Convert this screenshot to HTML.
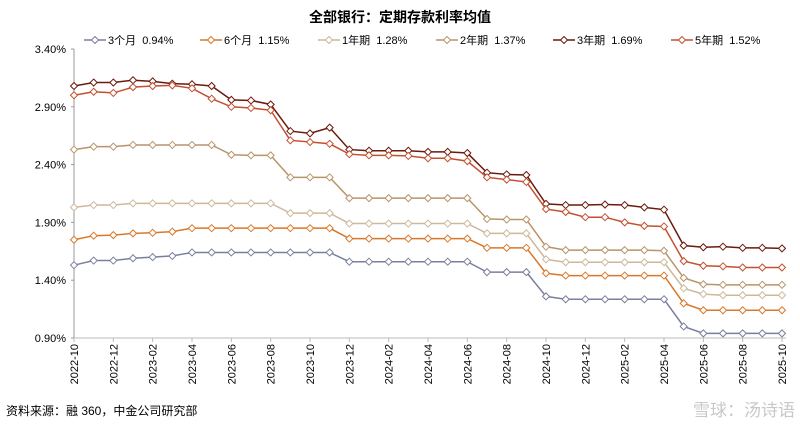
<!DOCTYPE html>
<html><head><meta charset="utf-8"><style>
body{margin:0;background:#fff;font-family:"Liberation Sans","Noto Sans CJK SC",sans-serif}
</style></head><body>
<svg id="c" width="800" height="429" xmlns="http://www.w3.org/2000/svg" style="display:block">
<text x="400" y="22" text-anchor="middle" font-size="14" font-weight="bold" fill="#000">全部银行：定期存款利率均值</text>
<g id="legend"></g>
<g id="axes"></g>
<g id="series"></g>
<text x="6" y="415" font-size="12" fill="#000">资料来源：融 360，中金公司研究部</text>
<text x="795" y="416" text-anchor="end" font-size="17" fill="#c8c8c8">雪球：汤诗语</text>
</svg>
<script>
const categories=[];for(let y=2022,m=10;categories.length<37;){categories.push(y+'-'+String(m).padStart(2,'0'));m++;if(m>12){m=1;y++;}}
const yTicks=[0.9,1.4,1.9,2.4,2.9,3.4];
const names=['3个月','6个月','1年期','2年期','3年期','5年期'];
const latest=['0.94%','1.15%','1.28%','1.37%','1.69%','1.52%'];
const s3m=[1.53,1.57,1.57,1.59,1.60,1.61,1.64,1.64,1.64,1.64,1.64,1.64,1.64,1.64,1.56,1.56,1.56,1.56,1.56,1.56,1.56,1.47,1.47,1.47,1.26,1.235,1.235,1.235,1.235,1.235,1.235,1.00,0.94,0.94,0.94,0.94,0.94];
const s6m=[1.75,1.785,1.79,1.805,1.81,1.82,1.85,1.85,1.85,1.85,1.85,1.85,1.85,1.85,1.76,1.76,1.76,1.76,1.76,1.76,1.76,1.68,1.68,1.68,1.46,1.44,1.44,1.44,1.44,1.44,1.44,1.20,1.14,1.14,1.14,1.14,1.14];
const s1y=[2.03,2.05,2.05,2.065,2.065,2.065,2.065,2.065,2.065,2.065,2.065,1.98,1.98,1.98,1.89,1.89,1.89,1.89,1.89,1.89,1.89,1.805,1.805,1.805,1.58,1.555,1.555,1.555,1.555,1.555,1.555,1.33,1.28,1.27,1.27,1.27,1.27];
const s2y=[2.53,2.555,2.555,2.57,2.57,2.57,2.57,2.57,2.485,2.48,2.48,2.29,2.29,2.29,2.11,2.11,2.11,2.11,2.11,2.11,2.11,1.93,1.925,1.925,1.69,1.66,1.66,1.66,1.66,1.66,1.655,1.42,1.365,1.36,1.36,1.36,1.36];
const s3y=[3.08,3.11,3.11,3.13,3.12,3.10,3.095,3.08,2.96,2.955,2.92,2.69,2.67,2.72,2.53,2.52,2.52,2.52,2.51,2.51,2.50,2.33,2.315,2.31,2.06,2.05,2.05,2.055,2.05,2.03,2.01,1.70,1.685,1.69,1.68,1.68,1.675];
const s5y=[3.00,3.03,3.02,3.07,3.08,3.085,3.06,2.97,2.90,2.89,2.87,2.61,2.595,2.58,2.49,2.48,2.48,2.475,2.455,2.455,2.43,2.29,2.27,2.25,2.015,1.99,1.945,1.945,1.90,1.87,1.865,1.565,1.525,1.52,1.51,1.51,1.51];
const seriesData=[s3m,s6m,s1y,s2y,s3y,s5y];
const colors=['#7b7f9e','#d9782a','#cdb89c','#b8946a','#6b1a0e','#c4502f'];
const NS='http://www.w3.org/2000/svg';
const X0=74,X1=782,Y0=338,Y1=49;
const xs=i=>X0+(X1-X0)*i/(categories.length-1);
const ys=v=>Y0-(v-0.9)/(3.4-0.9)*(Y0-Y1);
function mk(tag,attrs,parent){const e=document.createElementNS(NS,tag);for(const k in attrs)e.setAttribute(k,attrs[k]);parent.appendChild(e);return e;}
const ax=document.getElementById('axes');
let l=mk('line',{x1:X0,y1:Y1,x2:X0,y2:Y0,stroke:'#999','stroke-width':1},ax);


l=mk('line',{x1:X0,y1:Y0,x2:X1+4,y2:Y0,stroke:'#bbb','stroke-width':1},ax);


yTicks.forEach(v=>{const t=mk('text',{x:X0-8,y:ys(v)+4,'text-anchor':'end','font-size':11,fill:'#000'},ax);t.textContent=v.toFixed(2)+'%';


mk('line',{x1:X0-3,y1:ys(v),x2:X0,y2:ys(v),stroke:'#999'},ax);});
categories.forEach((c,i)=>{if(i%2)return;const x=xs(i);mk('line',{x1:x,y1:Y0,x2:x,y2:Y0+4,stroke:'#bbb'},ax);
const t=mk('text',{x:0,y:0,transform:`translate(${x+4},${Y0+6}) rotate(-90)`,'text-anchor':'end','font-size':11,fill:'#000'},ax);t.textContent=c;

});
const sg=document.getElementById('series');
seriesData.forEach((d,si)=>{const g=mk('g',{},sg);


mk('polyline',{points:d.map((v,i)=>xs(i)+','+ys(v)).join(' '),fill:'none',stroke:colors[si],'stroke-width':1.5},g);
d.forEach((v,i)=>{const x=xs(i),y=ys(v);const p=mk('polygon',{points:`${x},${y-3.5} ${x+3.5},${y} ${x},${y+3.5} ${x-3.5},${y}`,fill:'#fff',stroke:colors[si],'stroke-width':1},g);

});});
const lg=document.getElementById('legend');
const lx=[84,200,318,436,553,671];
names.forEach((n,i)=>{const g=mk('g',{},lg);


const x=lx[i],y=40;mk('line',{x1:x,y1:y,x2:x+22,y2:y,stroke:colors[i],'stroke-width':1.5},g);
mk('polygon',{points:`${x+11},${y-3.5} ${x+14.5},${y} ${x+11},${y+3.5} ${x+7.5},${y}`,fill:'#fff',stroke:colors[i]},g);
const t=mk('text',{x:x+24,y:y+4,'font-size':11,fill:'#000'},g);t.textContent=n+'  '+latest[i];t.setAttribute('xml:space','preserve');t.style.whiteSpace='pre';});
</script>
</body></html>
